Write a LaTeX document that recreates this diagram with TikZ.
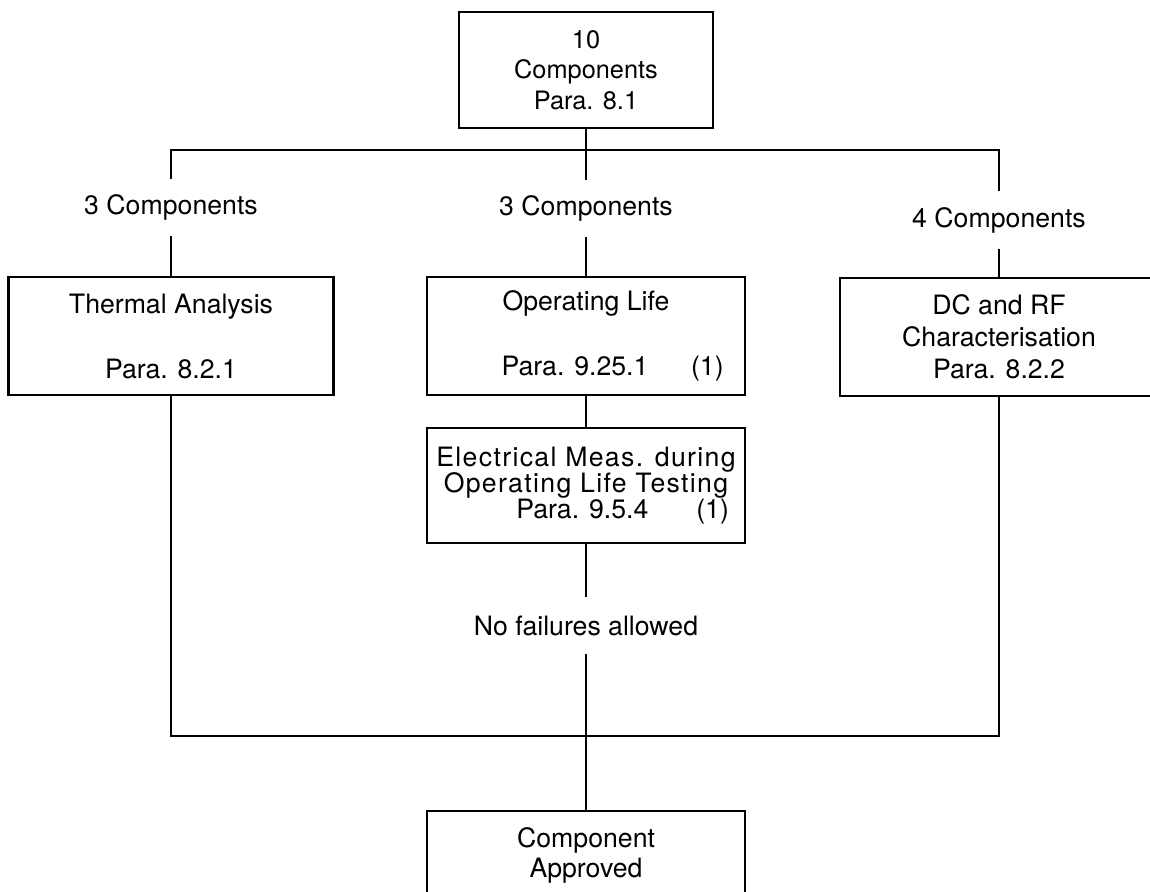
\documentclass[tikz,border=0pt]{standalone}
\usepackage{fontspec}
\setmainfont{TeX Gyre Heros}
\newfontfamily\widefont{TeX Gyre Heros}[LetterSpace=5]
\newcommand{\chartfont}{\fontsize{20}{24}\selectfont}
\tikzset{every picture/.style={line width=1.9pt}}
\tikzset{
  stepbox/.style={draw, inner sep=0pt, align=center, font=\chartfont,
    minimum width=238.5pt, minimum height=88.5pt},
  countlabel/.style={inner sep=0pt, minimum height=41pt, font=\chartfont},
}

\begin{document}
\begin{tikzpicture}[x=0.75pt,y=0.75pt,yscale=-1,xscale=1]
%set diagram size 1150 x 892
\useasboundingbox (0,0) rectangle (1150,892);
\clip (0,0) rectangle (1150,892);

%Shape: Rectangle [total]
\node [stepbox, minimum width=190.5pt, minimum height=87pt, font=\fontsize{19}{23}\selectfont] (total) at (586,70) {10\\Components\\Para. 8.1};

% Text Node
\node [countlabel] (lblL) at (171,207.5) {3 Components};
% Text Node
\node [countlabel] (lblM) at (586,208.5) {3 Components};
% Text Node
\node [countlabel] (lblR) at (999,220) {4 Components};

%Shape: Rectangle [thermal]
\node [stepbox, minimum width=243.75pt] (thermal) at (171,336) {Thermal Analysis\\[24.75pt]Para. 8.2.1};
%Shape: Rectangle [oplife]
\node [stepbox] (oplife) at (586,336) {Operating Life\\[24.75pt]\hspace*{40pt}Para. 9.25.1\hspace{32pt}(1)};
%Shape: Rectangle [dcrf]
\node [stepbox] (dcrf) at (999,337) {DC and RF\\Characterisation\\Para. 8.2.2};
%Shape: Rectangle [elmeas]
\node [stepbox, minimum height=86.25pt, font=\fontsize{20}{19.5}\selectfont] (elmeas) at (586,485.5) {{\widefont Electrical Meas. during}\\{\widefont Operating Life Testing}\\\hspace*{55pt}Para. 9.5.4\hspace{36pt}(1)};

% Text Node
\node [countlabel] (nofail) at (586,625.5) {No failures allowed};

%Shape: Rectangle [approved]
\node [stepbox, minimum height=66pt, font=\fontsize{20}{22.5}\selectfont] (approved) at (586,855) {Component\\Approved};

%Straight Lines
\coordinate (busTL) at (171,150);
\coordinate (busT) at (586,150);
\coordinate (busTR) at (999,150);
\coordinate (busB) at (586,736);

\draw (total.south) -- (busT);
\draw (lblL.north) -- (busTL) -- (busTR) -- (lblR.north);
\draw (busT) -- (lblM.north);
\draw (lblL.south) -- (thermal.north);
\draw (lblM.south) -- (oplife.north);
\draw (lblR.south) -- (dcrf.north);
\draw (oplife.south) -- (elmeas.north);
\draw (elmeas.south) -- (nofail.north);
\draw (nofail.south) -- (busB) -- (approved.north);
\draw (thermal.south) |- (busB) -| (dcrf.south);

\end{tikzpicture}
\end{document}
